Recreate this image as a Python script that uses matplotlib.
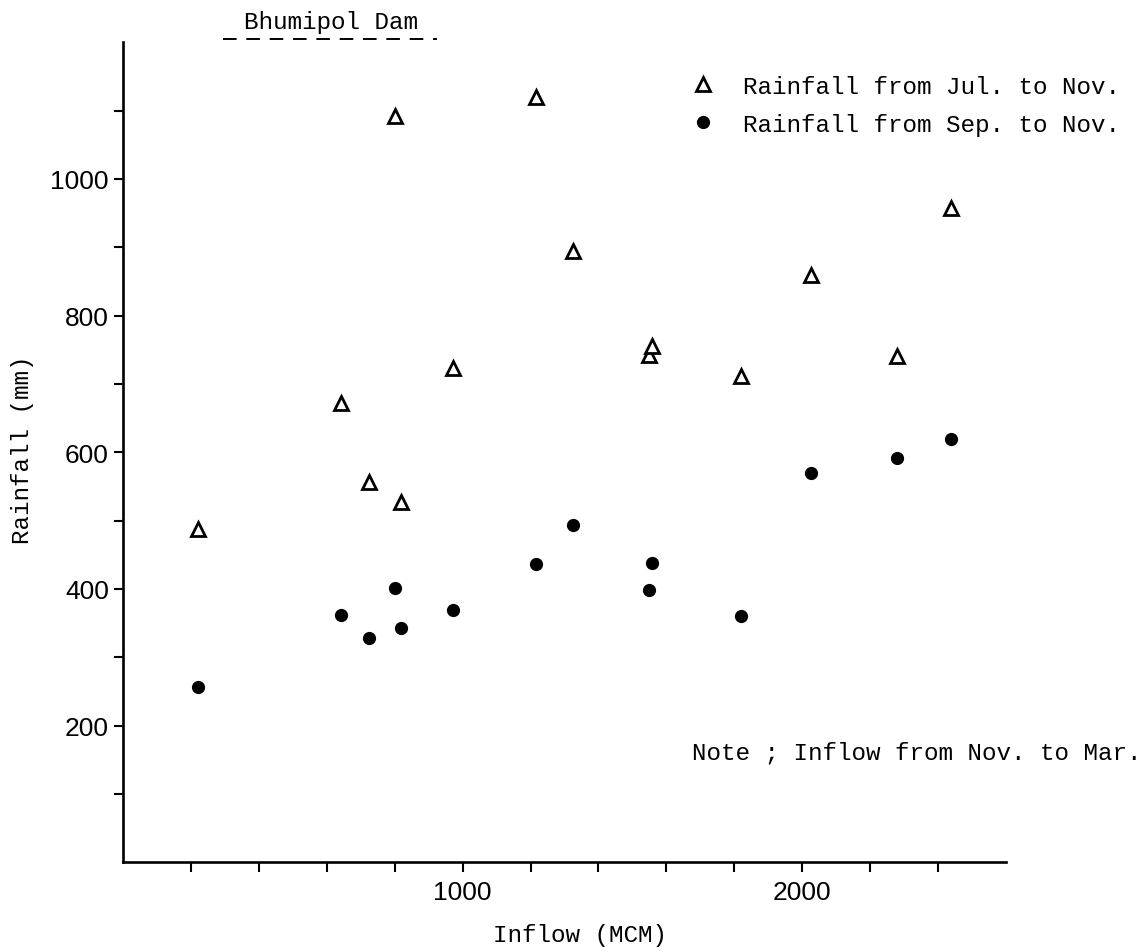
"""Bhumipol Dam: rainfall against dry-season inflow."""

import matplotlib

matplotlib.use("Agg")
import matplotlib.pyplot as plt
from matplotlib.lines import Line2D
from matplotlib.ticker import FixedLocator, FuncFormatter

# values
inflow = [220, 643, 724, 801, 820, 972, 1217, 1326, 1548, 1559, 1820, 2025, 2279, 2437]
rain_jul_nov = [488, 672, 557, 1092, 528, 724, 1120, 894, 743, 756, 711, 860, 741, 957]
rain_sep_nov = [257, 362, 328, 401, 343, 369, 437, 493, 399, 438, 361, 569, 592, 619]

x_ticks = list(range(200, 2600, 200))
x_labels = {1000: "1000", 2000: "2000"}
y_ticks = list(range(100, 1200, 100))
y_labels = {200: "200", 400: "400", 600: "600", 800: "800", 1000: "1000"}

W, H = 1141, 953
TYPE = ["Liberation Mono", "DejaVu Sans Mono"]
NUMS = ["Liberation Sans Narrow", "Liberation Sans", "DejaVu Sans"]
TSIZE = 17.5


def fx(px):
    return px / W


def fy(py):
    return 1 - py / H


fig = plt.figure(figsize=(W / 100, H / 100), dpi=100)
ax_l, ax_r, ax_t, ax_b = 123, 1006, 43.3, 863.3
ax = fig.add_axes([fx(ax_l), fy(ax_b), (ax_r - ax_l) / W, (ax_b - ax_t) / H])

ax.plot(inflow, rain_jul_nov, linestyle="none", marker="^", markersize=10.5,
        markerfacecolor="white", markeredgecolor="black", markeredgewidth=2.0,
        label="Rainfall from Jul. to Nov.")
ax.plot(inflow, rain_sep_nov, linestyle="none", marker="o", markersize=8.5,
        color="black", label="Rainfall from Sep. to Nov.")

ax.set_xlim(0, 2600)
ax.set_ylim(0, 1200)
for side in ["top", "right"]:
    ax.spines[side].set_visible(False)
for side in ["left", "bottom"]:
    ax.spines[side].set_linewidth(1.9)

ax.xaxis.set_major_locator(FixedLocator(x_ticks))
ax.yaxis.set_major_locator(FixedLocator(y_ticks))
ax.xaxis.set_major_formatter(FuncFormatter(lambda v, p: x_labels.get(int(round(v)), "")))
ax.yaxis.set_major_formatter(FuncFormatter(lambda v, p: y_labels.get(int(round(v)), "")))
ax.tick_params(axis="x", direction="out", length=7, width=1.5, pad=6)
ax.tick_params(axis="y", direction="out", length=6.5, width=1.5, pad=3.6)
for lab in ax.get_xticklabels() + ax.get_yticklabels():
    lab.set_family(NUMS)
    lab.set_fontsize(19)

ax.set_xlabel("Inflow (MCM)", family=TYPE, fontsize=TSIZE)
ax.set_ylabel("Rainfall (mm)", family=TYPE, fontsize=TSIZE)
ax.xaxis.set_label_coords((580 - ax_l) / (ax_r - ax_l), -(924 - ax_b) / (ax_b - ax_t))
ax.yaxis.set_label_coords(-(ax_l - 34) / (ax_r - ax_l), (ax_b - 450) / (ax_b - ax_t))

ax.legend(loc="upper left", bbox_to_anchor=(fx(691), fy(76)),
          bbox_transform=fig.transFigure, frameon=False,
          prop={"family": TYPE, "size": TSIZE}, handlelength=1.0,
          handletextpad=1.15, labelspacing=0.6, borderpad=0,
          borderaxespad=0)

fig.text(fx(692), fy(760), "Note ; Inflow from Nov. to Mar.",
         family=TYPE, fontsize=TSIZE, va="baseline", ha="left")

fig.text(fx(331), fy(22), "Bhumipol Dam", family=TYPE, fontsize=TSIZE,
         ha="center", va="center")
fig.add_artist(Line2D([fx(223), fx(437)], [fy(39.5), fy(39.5)],
                      transform=fig.transFigure, color="black",
                      linewidth=1.4, linestyle=(0, (7, 5))))

fig.savefig("out.png", dpi=100)
